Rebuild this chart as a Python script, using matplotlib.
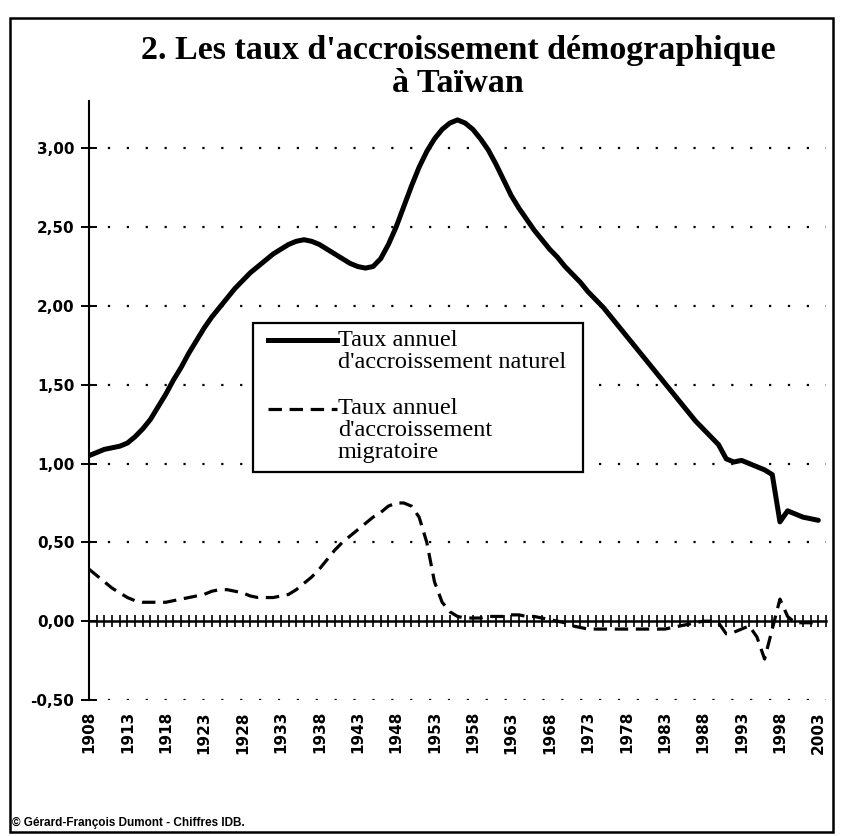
import numpy as np
import matplotlib
matplotlib.use("Agg")
import matplotlib.pyplot as plt
from matplotlib.ticker import FuncFormatter, MultipleLocator
from matplotlib.lines import Line2D
from matplotlib.patches import Rectangle

# -----------------------------
# Data
# -----------------------------
years = np.arange(1908, 2004)

natural = [
    1.05, 1.07, 1.09, 1.10, 1.11, 1.13, 1.17, 1.22, 1.28, 1.36,   # 1908-1917
    1.44, 1.53, 1.61, 1.70, 1.78, 1.86, 1.93, 1.99, 2.05, 2.11,   # 1918-1927
    2.16, 2.21, 2.25, 2.29, 2.33, 2.36, 2.39, 2.41, 2.42, 2.41,   # 1928-1937
    2.39, 2.36, 2.33, 2.30, 2.27, 2.25, 2.24, 2.25, 2.30, 2.39,   # 1938-1947
    2.50, 2.63, 2.76, 2.88, 2.98, 3.06, 3.12, 3.16, 3.18, 3.16,   # 1948-1957
    3.12, 3.06, 2.99, 2.90, 2.80, 2.70, 2.62, 2.55, 2.48, 2.42,   # 1958-1967
    2.36, 2.31, 2.25, 2.20, 2.15, 2.09, 2.04, 1.99, 1.93, 1.87,   # 1968-1977
    1.81, 1.75, 1.69, 1.63, 1.57, 1.51, 1.45, 1.39, 1.33, 1.27,   # 1978-1987
    1.22, 1.17, 1.12, 1.03, 1.01, 1.02, 1.00, 0.98, 0.96, 0.93,   # 1988-1997
    0.63, 0.70, 0.68, 0.66, 0.65, 0.64,                           # 1998-2003
]

migratory = [
    0.33, 0.29, 0.25, 0.21, 0.18, 0.15, 0.13, 0.12, 0.12, 0.12,   # 1908-1917
    0.12, 0.13, 0.14, 0.15, 0.16, 0.17, 0.19, 0.20, 0.20, 0.19,   # 1918-1927
    0.18, 0.16, 0.15, 0.15, 0.15, 0.16, 0.17, 0.20, 0.24, 0.28,   # 1928-1937
    0.33, 0.39, 0.45, 0.50, 0.54, 0.58, 0.62, 0.66, 0.69, 0.73,   # 1938-1947
    0.75, 0.75, 0.73, 0.66, 0.50, 0.25, 0.12, 0.06, 0.03, 0.02,   # 1948-1957
    0.02, 0.02, 0.03, 0.03, 0.03, 0.04, 0.04, 0.03, 0.03, 0.02,   # 1958-1967
    0.01, 0.00, -0.01, -0.03, -0.04, -0.05, -0.05, -0.05, -0.05, -0.05,  # 1968-1977
    -0.05, -0.05, -0.05, -0.05, -0.05, -0.05, -0.04, -0.03, -0.02, -0.01,  # 1978-1987
    0.00, 0.00, -0.01, -0.08, -0.07, -0.05, -0.03, -0.10, -0.24, -0.05,  # 1988-1997
    0.14, 0.03, -0.01, -0.01, -0.01, -0.01,                        # 1998-2003
]

label_years = list(range(1908, 2004, 5))
y_ticks = [-0.5, 0.0, 0.5, 1.0, 1.5, 2.0, 2.5, 3.0]
grid_levels = [-0.5, 0.5, 1.0, 1.5, 2.0, 2.5, 3.0]

title = "2. Les taux d'accroissement démographique\nà Taïwan"
legend_natural = "Taux annuel\nd'accroissement naturel"
legend_migr = "Taux annuel\nd'accroissement\nmigratoire"
credit = "© Gérard-François Dumont - Chiffres IDB."

# -----------------------------
# Figure geometry (pixels)
# -----------------------------
W, H = 842, 836


def px(x, y):
    return x / W, 1 - y / H


fig = plt.figure(figsize=(W / 100, H / 100), dpi=100, facecolor='white')
ax = fig.add_axes([89 / W, 1 - 700 / H, (826 - 89) / W, (700 - 101) / H])

ax.set_xlim(1908, 2004)
ax.set_ylim(-0.5, 3.3)

# dotted gridlines
ax.hlines(grid_levels, 1908, 2004, colors='black', linewidth=1.6,
          linestyles=[(0, (1, 7.5))], zorder=1)

# series
ax.plot(years, natural, color='black', linewidth=3.6,
        solid_joinstyle='round', solid_capstyle='round', zorder=3)
ax.plot(years, migratory, color='black', linewidth=2.3,
        linestyle=(0, (4.2, 2.4)), zorder=3)

# spines: left axis + zero line carrying the yearly ticks
for s in ['top', 'right']:
    ax.spines[s].set_visible(False)
ax.spines['left'].set_linewidth(1.5)
ax.spines['bottom'].set_position(('data', 0))
ax.spines['bottom'].set_linewidth(1.8)

ax.xaxis.set_major_locator(MultipleLocator(1))
ax.tick_params(axis='x', which='major', direction='inout', length=9,
               width=1.2, labelbottom=False)

ax.set_yticks(y_ticks)
ax.yaxis.set_major_formatter(FuncFormatter(lambda v, p: f"{v:.2f}".replace('.', ',')))
ax.tick_params(axis='y', direction='inout', length=11, width=1.4, pad=5)
for lab in ax.get_yticklabels():
    lab.set_fontfamily('DejaVu Sans')
    lab.set_fontweight('bold')
    lab.set_fontsize(11)

# year labels along the bottom
sec = ax.secondary_xaxis('bottom')
sec.set_xticks(label_years)
sec.set_xticklabels([str(y) for y in label_years], rotation=90,
                    fontfamily='DejaVu Sans', fontweight='bold', fontsize=11)
sec.tick_params(length=0, pad=8)
sec.spines['bottom'].set_visible(False)

# -----------------------------
# Legend (drawn by hand, handles aligned to first line)
# -----------------------------
x0, y0 = px(253, 472)
x1, y1 = px(583, 323)
fig.patches.append(Rectangle((x0, y0), x1 - x0, y1 - y0, transform=fig.transFigure,
                             facecolor='white', edgecolor='black', linewidth=1.6, zorder=5))
la, lb = px(268, 340), px(337, 340)
fig.lines.append(Line2D([la[0], lb[0]], [la[1], lb[1]], transform=fig.transFigure,
                        color='black', linewidth=3.6, zorder=6))
la, lb = px(268, 409), px(337, 409)
fig.lines.append(Line2D([la[0], lb[0]], [la[1], lb[1]], transform=fig.transFigure,
                        color='black', linewidth=2.3, linestyle=(0, (4.2, 2.4)), zorder=6))
fig.text(*px(338, 330), legend_natural, fontfamily='Liberation Serif', fontsize=17.5,
         va='top', ha='left', linespacing=1.05, zorder=7)
fig.text(*px(338, 398), legend_migr, fontfamily='Liberation Serif', fontsize=17.5,
         va='top', ha='left', linespacing=1.05, zorder=7)

# -----------------------------
# Title, credit, outer frame
# -----------------------------
fig.text(*px(458, 67), title, fontfamily='Liberation Serif', fontweight='bold',
         fontsize=24.5, ha='center', va='center', linespacing=1.08)
fig.text(*px(12, 823), credit, fontfamily='Liberation Sans', fontweight='bold',
         fontsize=8.5, ha='left', va='center')

fx0, fy0 = px(10, 832)
fx1, fy1 = px(833, 18)
fig.patches.append(Rectangle((fx0, fy0), fx1 - fx0, fy1 - fy0, transform=fig.transFigure,
                             facecolor='none', edgecolor='black', linewidth=1.8))

fig.savefig('out.png', dpi=100, facecolor='white')
